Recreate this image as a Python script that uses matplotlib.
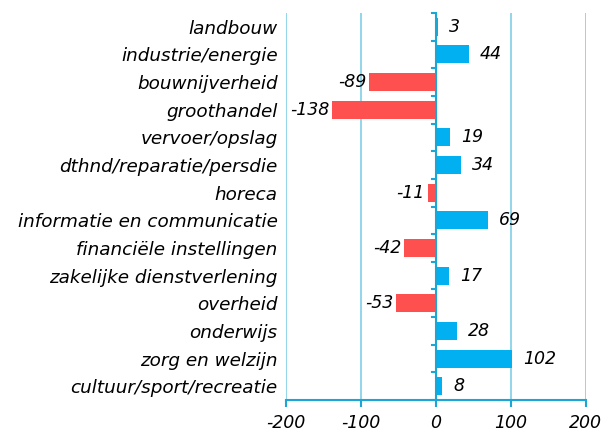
import matplotlib
matplotlib.use("Agg")
import matplotlib.pyplot as plt
import numpy as np

categories = ["landbouw", "industrie/energie", "bouwnijverheid", "groothandel",
              "vervoer/opslag", "dthnd/reparatie/persdie", "horeca",
              "informatie en communicatie", "financiële instellingen",
              "zakelijke dienstverlening", "overheid", "onderwijs",
              "zorg en welzijn", "cultuur/sport/recreatie"]
values = [3, 44, -89, -138, 19, 34, -11, 69, -42, 17, -53, 28, 102, 8]
xticks = [-200, -100, 0, 100, 200]

pos_color = "#00B0F0"
neg_color = "#FF5050"
grid_color = "#7FCFE6"
axis_color = "#1AA7D6"

fig = plt.figure(figsize=(6.16, 4.33), dpi=100)
ax = fig.add_axes([0.464, 0.076, 0.487, 0.894])

y = np.arange(len(categories))
colors = [pos_color if v >= 0 else neg_color for v in values]
ax.barh(y, values, height=0.65, color=colors, zorder=3)

ax.set_xlim(-200, 200)
ax.set_ylim(len(categories) - 0.5, -0.5)
ax.set_xticks(xticks)
ax.set_xticklabels([str(t) for t in xticks], fontsize=12.5, style="italic")
ax.tick_params(axis="x", direction="out", length=5, color=axis_color, width=1.5, pad=5)

ax.set_yticks(y)
ax.set_yticklabels(categories, fontsize=13.2, style="italic")
ax.tick_params(axis="y", length=0, pad=6)

# y axis line at zero with minor ticks between categories
ax.axvline(0, color=axis_color, lw=1.5, zorder=4)
for b in np.arange(-0.5, len(categories), 1.0):
    ax.plot([-5, 0], [b, b], color=axis_color, lw=1.5, zorder=4, clip_on=False)

for s in ["top", "left", "right"]:
    ax.spines[s].set_visible(False)
ax.spines["bottom"].set_color(axis_color)
ax.spines["bottom"].set_linewidth(1.5)

for t in xticks:
    if t != 0:
        ax.axvline(t, color=grid_color, lw=1.2, zorder=1)

for yi, v in zip(y, values):
    if v >= 0:
        ax.annotate(str(v), (v, yi), xytext=(8, 0), textcoords="offset points",
                    ha="left", va="center", fontsize=12.5, style="italic")
    else:
        ax.annotate(str(v), (v, yi), xytext=(-2, 0), textcoords="offset points",
                    ha="right", va="center", fontsize=12.5, style="italic")

fig.savefig("out.png", dpi=100)
